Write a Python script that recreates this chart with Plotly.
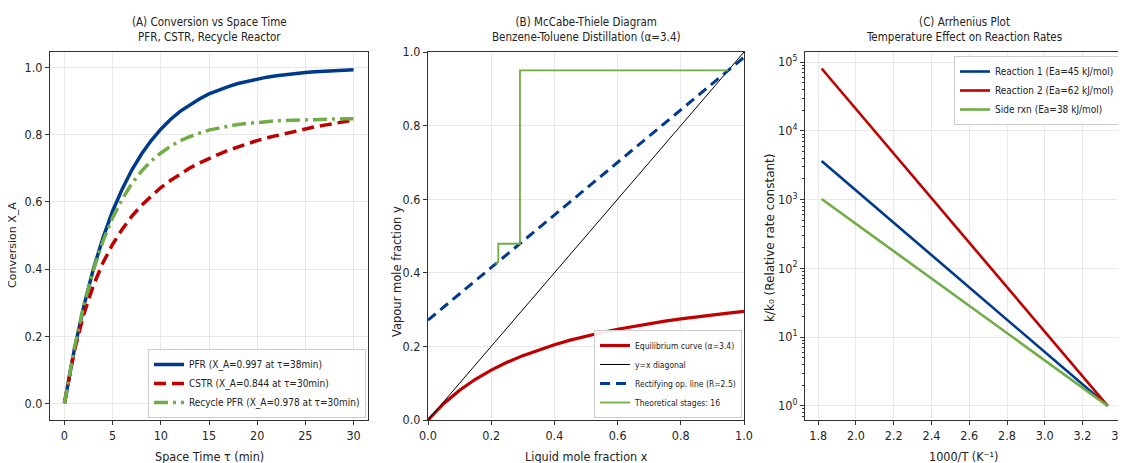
import plotly.graph_objects as go

# ---------------- Data ----------------
# (A) Conversion vs space time
tau = list(range(31))
pfr = [0.0, 0.156, 0.288, 0.400, 0.493, 0.573, 0.639, 0.696, 0.743, 0.783, 0.817,
       0.846, 0.870, 0.890, 0.907, 0.922, 0.934, 0.944, 0.953, 0.960, 0.967,
       0.972, 0.976, 0.980, 0.983, 0.986, 0.988, 0.990, 0.991, 0.993, 0.994]
cstr = [0.0, 0.153, 0.265, 0.351, 0.419, 0.474, 0.519, 0.558, 0.590, 0.618, 0.643,
        0.664, 0.684, 0.701, 0.716, 0.730, 0.742, 0.754, 0.764, 0.774, 0.783,
        0.791, 0.798, 0.805, 0.812, 0.818, 0.824, 0.829, 0.834, 0.839, 0.844]
recycle = [0.0, 0.161, 0.292, 0.397, 0.483, 0.553, 0.609, 0.655, 0.692, 0.722, 0.746,
           0.766, 0.782, 0.795, 0.805, 0.814, 0.820, 0.826, 0.831, 0.834, 0.837,
           0.840, 0.842, 0.843, 0.844, 0.846, 0.846, 0.847, 0.848, 0.848, 0.848]
names_a = ["PFR (X_A=0.997 at τ=38min)", "CSTR (X_A=0.844 at τ=30min)",
           "Recycle PFR (X_A=0.978 at τ=30min)"]

# (B) McCabe-Thiele
x_eq = [0.0, 0.05, 0.10, 0.15, 0.20, 0.25, 0.30, 0.35, 0.40, 0.45, 0.50,
        0.55, 0.60, 0.65, 0.70, 0.75, 0.80, 0.85, 0.90, 0.95, 1.00]
y_eq = [0.0, 0.0448, 0.0809, 0.1106, 0.1355, 0.1567, 0.1749, 0.1908, 0.2047, 0.2170,
        0.2280, 0.2378, 0.2466, 0.2547, 0.2620, 0.2687, 0.2748, 0.2804, 0.2857,
        0.2905, 0.2950]
diag_x = [0.0, 1.0]
diag_y = [0.0, 1.0]
op_x = [0.0, 1.0]
op_y = [0.2714, 0.9857]
stage_x = [0.95, 0.291, 0.291, 0.2225, 0.2225, 0.213]
stage_y = [0.95, 0.95, 0.479, 0.479, 0.430, 0.423]
names_b = ["Equilibrium curve (α=3.4)", "y=x diagonal",
           "Rectifying op. line (R=2.5)", "Theoretical stages: 16"]

# (C) Arrhenius
inv_T = [1.818, 3.333]
k_r1 = [3640, 1.0]
k_r2 = [80800, 1.0]
k_side = [1020, 1.0]
names_c = ["Reaction 1 (Ea=45 kJ/mol)", "Reaction 2 (Ea=62 kJ/mol)",
           "Side rxn (Ea=38 kJ/mol)"]

# ---------------- Style ----------------
BLUE = "#003a8c"
RED = "#c00000"
GREEN = "#70ad47"
NARROW = "DejaVu Sans Condensed, Liberation Sans Narrow, Liberation Sans, sans-serif"
WIDE = "DejaVu Sans, sans-serif"
W, H = 1126, 463
OFF = 8  # page body margin offset


def px(x):
    return (x - OFF) / W


def py(y):
    return 1 - (y - OFF) / H


fig = go.Figure()

# Panel A
fig.add_trace(go.Scatter(x=tau, y=pfr, mode="lines", name=names_a[0],
                         line=dict(color=BLUE, width=3.5), xaxis="x", yaxis="y",
                         legend="legend"))
fig.add_trace(go.Scatter(x=tau, y=cstr, mode="lines", name=names_a[1],
                         line=dict(color=RED, width=3.5, dash="12px,6px"),
                         xaxis="x", yaxis="y", legend="legend"))
fig.add_trace(go.Scatter(x=tau, y=recycle, mode="lines", name=names_a[2],
                         line=dict(color=GREEN, width=3.5, dash="14px,5px,3px,5px"),
                         xaxis="x", yaxis="y", legend="legend"))

# Panel B
fig.add_trace(go.Scatter(x=x_eq, y=y_eq, mode="lines", name=names_b[0],
                         line=dict(color=RED, width=3.2), xaxis="x2", yaxis="y2",
                         legend="legend2"))
fig.add_trace(go.Scatter(x=diag_x, y=diag_y, mode="lines", name=names_b[1],
                         line=dict(color="black", width=1), xaxis="x2", yaxis="y2",
                         legend="legend2"))
fig.add_trace(go.Scatter(x=op_x, y=op_y, mode="lines", name=names_b[2],
                         line=dict(color=BLUE, width=3, dash="10px,6px"),
                         xaxis="x2", yaxis="y2", legend="legend2"))
fig.add_trace(go.Scatter(x=stage_x, y=stage_y, mode="lines", name=names_b[3],
                         line=dict(color=GREEN, width=1.8), xaxis="x2", yaxis="y2",
                         legend="legend2"))

# Panel C
fig.add_trace(go.Scatter(x=inv_T, y=k_r1, mode="lines", name=names_c[0],
                         line=dict(color=BLUE, width=2.6), xaxis="x3", yaxis="y3",
                         legend="legend3"))
fig.add_trace(go.Scatter(x=inv_T, y=k_r2, mode="lines", name=names_c[1],
                         line=dict(color=RED, width=2.6), xaxis="x3", yaxis="y3",
                         legend="legend3"))
fig.add_trace(go.Scatter(x=inv_T, y=k_side, mode="lines", name=names_c[2],
                         line=dict(color=GREEN, width=2.6), xaxis="x3", yaxis="y3",
                         legend="legend3"))

# Geometry (page pixels)
panels = [(50, 368), (428, 744), (805, 1122)]
top_px, bot_px = 52, 420
ydom = [py(bot_px), py(top_px)]


def dom(p):
    return [px(p[0]), px(p[1])]


axis_common = dict(showline=True, mirror=True, linecolor="#333333", linewidth=1.2,
                   ticks="outside", ticklen=4, tickwidth=1, tickcolor="#333333",
                   showgrid=True, gridcolor="#e8e8e8", gridwidth=1, zeroline=False,
                   automargin=False,
                   tickfont=dict(family=NARROW, size=12.5, color="#262626"))

legend_common = dict(bgcolor="rgba(255,255,255,0.9)", bordercolor="#cccccc",
                     borderwidth=1, itemwidth=30, tracegroupgap=0)

fig.update_layout(
    width=W, height=H, margin=dict(l=0, r=0, t=0, b=0, autoexpand=False),
    paper_bgcolor="white", plot_bgcolor="white", showlegend=True,
    xaxis=dict(domain=dom(panels[0]), range=[-1.5, 31.5], tickvals=[0, 5, 10, 15, 20, 25, 30],
               anchor="y", **axis_common),
    yaxis=dict(domain=ydom, range=[-0.05, 1.047], tickvals=[0, 0.2, 0.4, 0.6, 0.8, 1.0],
               tickformat=".1f", anchor="x", **axis_common),
    xaxis2=dict(domain=dom(panels[1]), range=[0, 1], tickvals=[0, 0.2, 0.4, 0.6, 0.8, 1.0],
                tickformat=".1f", anchor="y2", **axis_common),
    yaxis2=dict(domain=ydom, range=[0, 1], tickvals=[0, 0.2, 0.4, 0.6, 0.8, 1.0],
                tickformat=".1f", anchor="x2", **axis_common),
    xaxis3=dict(domain=dom(panels[2]), range=[1.73, 3.409],
                tickvals=[1.8, 2.0, 2.2, 2.4, 2.6, 2.8, 3.0, 3.2, 3.4],
                tickformat=".1f", anchor="y3", **axis_common),
    yaxis3=dict(domain=ydom, type="log", range=[-0.206, 5.147],
                tickvals=[1, 10, 100, 1000, 10000, 100000],
                ticktext=["10<sup>0</sup>", "10<sup>1</sup>", "10<sup>2</sup>",
                          "10<sup>3</sup>", "10<sup>4</sup>", "10<sup>5</sup>"],
                minor=dict(ticks="outside", ticklen=2, tickcolor="#333333",
                           showgrid=False, dtick="D1"),
                anchor="x3", **axis_common),
    legend=dict(x=px(366), y=py(418), xanchor="right", yanchor="bottom",
                font=dict(family=NARROW, size=10, color="#222"), **legend_common),
    legend2=dict(x=px(742), y=py(418), xanchor="right", yanchor="bottom",
                 font=dict(family=NARROW, size=8.5, color="#222"), **legend_common),
    legend3=dict(x=px(1120), y=py(56), xanchor="right", yanchor="top",
                 font=dict(family=NARROW, size=10, color="#222"), **legend_common),
)

titles = ["(A) Conversion vs Space Time<br>PFR, CSTR, Recycle Reactor",
          "(B) McCabe-Thiele Diagram<br>Benzene-Toluene Distillation (α=3.4)",
          "(C) Arrhenius Plot<br>Temperature Effect on Reaction Rates"]
xtitles = ["Space Time τ (min)", "Liquid mole fraction x", "1000/T (K⁻¹)"]
ytitles = ["Conversion X_A", "Vapour mole fraction y", "k/k₀ (Relative rate constant)"]
ytitle_x = [12, 397, 770]
ytitle_y = [245, 272, 238]
ytitle_size = [11, 11.5, 12]

annotations = []
for i, p in enumerate(panels):
    cx = px((p[0] + p[1]) / 2)
    annotations.append(dict(text=titles[i], x=cx, y=py(29), xref="paper", yref="paper",
                            xanchor="center", yanchor="middle", showarrow=False,
                            font=dict(family=NARROW, size=11.5, color="#222")))
    annotations.append(dict(text=xtitles[i], x=cx, y=py(456), xref="paper", yref="paper",
                            xanchor="center", yanchor="middle", showarrow=False,
                            font=dict(family=NARROW, size=12.5, color="#222")))
    annotations.append(dict(text=ytitles[i], x=px(ytitle_x[i]), y=py(ytitle_y[i]),
                            xref="paper", yref="paper", xanchor="center", yanchor="middle",
                            textangle=-90, showarrow=False,
                            font=dict(family=WIDE, size=ytitle_size[i], color="#222")))
fig.update_layout(annotations=annotations)

fig.write_html("out.html")
